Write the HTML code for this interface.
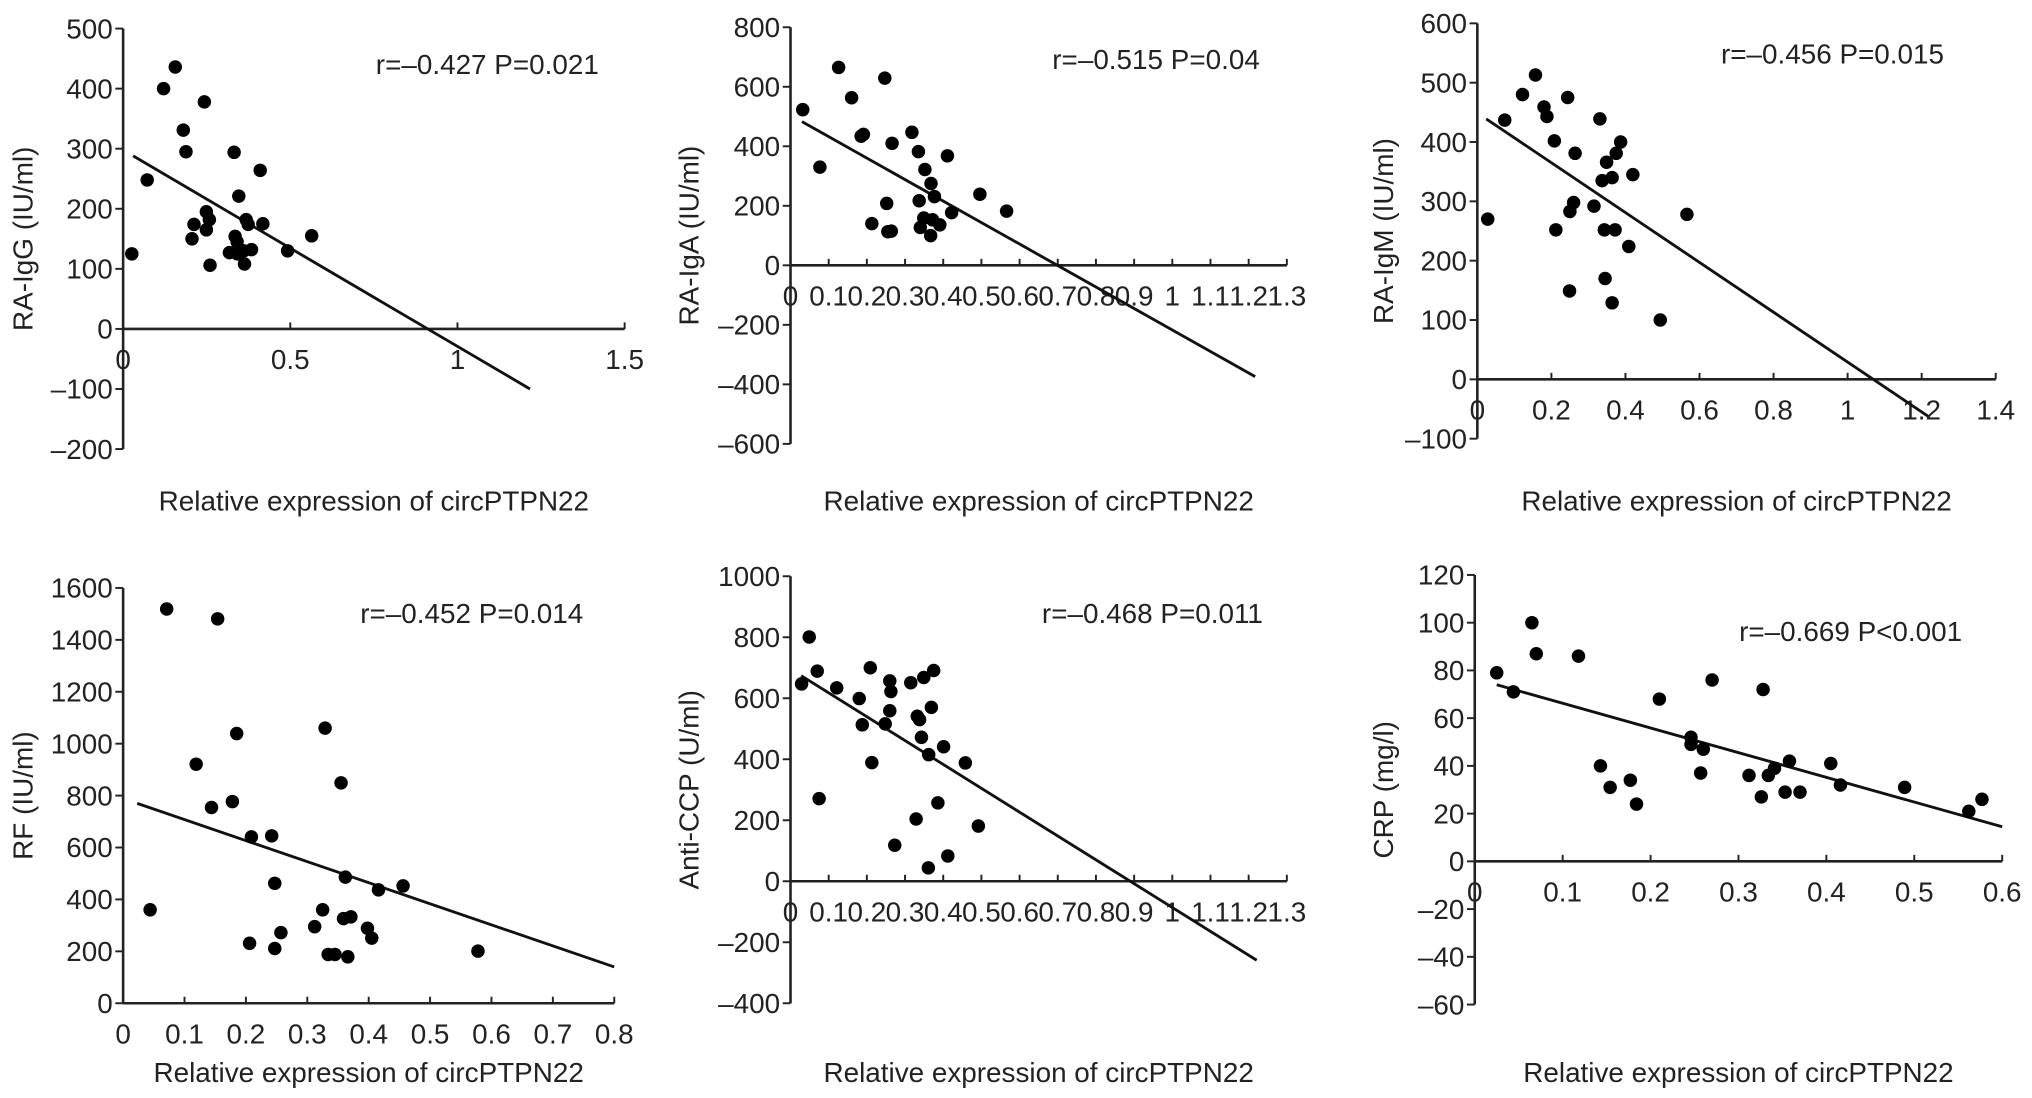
<!DOCTYPE html>
<html><head><meta charset="utf-8"><style>
html,body{margin:0;padding:0;background:#fff;}
svg{display:block;font-family:"Liberation Sans",Arial,sans-serif;}
</style></head><body>
<svg id="fig" width="2032" height="1098" viewBox="0 0 1568 846" preserveAspectRatio="none" xmlns="http://www.w3.org/2000/svg"></svg>
<script>
// ---- Panel A: RA-IgG ----
const iggX = [0.026,0.072,0.121,0.156,0.18,0.188,0.212,0.206,0.243,0.249,0.258,0.249,0.26,0.332,0.346,0.335,0.341,0.318,0.342,0.363,0.368,0.374,0.384,0.361,0.41,0.418,0.492,0.564];
const iggY = [125,248,400,436,331,295,174,150,378,195,182,165,106,294,221,154,145,127,125,108,182,174,132,130,264,175,130,155];
const iggFit = [[0.03,288],[1.217,-100]];
const iggYTicks = [500,400,300,200,100,0,-100,-200];
const iggXTicks = [0,0.5,1,1.5];
// ---- Panel B: RA-IgA ----
const igaX = [0.032,0.077,0.126,0.16,0.185,0.191,0.213,0.247,0.252,0.255,0.264,0.266,0.318,0.335,0.337,0.34,0.349,0.352,0.368,0.367,0.372,0.377,0.391,0.411,0.422,0.496,0.566];
const igaY = [523,330,665,563,434,440,140,629,208,113,115,410,447,382,217,127,159,322,275,100,153,231,136,368,177,239,182];
const igaFit = [[0.03,483],[1.217,-374]];
const igaYTicks = [800,600,400,200,0,-200,-400,-600];
const igaXTicks = [0,0.1,0.2,0.3,0.4,0.5,0.6,0.7,0.8,0.9,1,1.1,1.2,1.3];
// ---- Panel C: RA-IgM ----
const igmX = [0.028,0.074,0.122,0.157,0.18,0.188,0.208,0.212,0.244,0.249,0.25,0.26,0.264,0.315,0.331,0.337,0.343,0.345,0.349,0.364,0.364,0.372,0.375,0.387,0.409,0.42,0.494,0.566];
const igmY = [270,437,480,513,459,443,402,252,475,149,283,298,381,292,439,335,252,170,366,340,129,252,381,400,224,345,100,278];
const igmFit = [[0.024,439],[1.217,-62]];
const igmYTicks = [600,500,400,300,200,100,0,-100];
const igmXTicks = [0,0.2,0.4,0.6,0.8,1,1.2,1.4];
// ---- Panel D: RF ----
const rfX = [0.071,0.154,0.185,0.119,0.178,0.144,0.209,0.242,0.044,0.247,0.257,0.206,0.247,0.312,0.325,0.329,0.355,0.362,0.359,0.371,0.334,0.345,0.366,0.398,0.405,0.416,0.456,0.578];
const rfY = [1519,1481,1039,921,777,754,641,645,360,462,272,231,211,295,360,1060,849,486,326,333,188,188,179,289,251,437,452,201];
const rfFit = [[0.023,770],[0.8,140]];
const rfYTicks = [1600,1400,1200,1000,800,600,400,200,0];
const rfXTicks = [0,0.1,0.2,0.3,0.4,0.5,0.6,0.7,0.8];
// ---- Panel E: Anti-CCP ----
const ccpX = [0.029,0.049,0.07,0.075,0.121,0.18,0.188,0.209,0.213,0.248,0.26,0.263,0.26,0.273,0.315,0.329,0.332,0.338,0.343,0.349,0.362,0.361,0.369,0.375,0.386,0.401,0.412,0.458,0.492];
const ccpY = [647,801,689,271,634,599,513,700,389,516,657,622,559,118,651,204,541,530,472,668,415,44,570,691,257,441,83,388,181];
const ccpFit = [[0.028,674],[1.221,-259]];
const ccpYTicks = [1000,800,600,400,200,0,-200,-400];
const ccpXTicks = [0,0.1,0.2,0.3,0.4,0.5,0.6,0.7,0.8,0.9,1,1.1,1.2,1.3];
// ---- Panel F: CRP ----
const crpX = [0.025,0.044,0.065,0.07,0.118,0.143,0.154,0.177,0.184,0.21,0.246,0.246,0.26,0.257,0.27,0.312,0.326,0.328,0.334,0.341,0.353,0.358,0.37,0.405,0.416,0.489,0.562,0.577];
const crpY = [79,71,100,87,86,40,31,34,24,68,52,49,47,37,76,36,27,72,36,39,29,42,29,41,32,31,21,26];
const crpFit = [[0.025,74],[0.6,14.5]];
const crpYTicks = [120,100,80,60,40,20,0,-20,-40,-60];
const crpXTicks = [0,0.1,0.2,0.3,0.4,0.5,0.6];

const NS = "http://www.w3.org/2000/svg";
const svg = document.getElementById('fig');
function mk(tag, attrs, parent){ const e=document.createElementNS(NS,tag); for(const k in attrs) e.setAttribute(k,attrs[k]); (parent||svg).appendChild(e); return e; }

const panels = [
 {id:'igg', xs:iggX, ys:iggY, fit:iggFit, yt:iggYTicks, xt:iggXTicks, ax:95, x0:0,x1:1.5, px1:482, ytop:22, vtop:500, ybot:346, vbot:-200, ylab:'RA-IgG (IU/ml)', ylx:18, titleY:386, ann:'r=\u20130.427 P=0.021', annX:290, annY:57},
 {id:'iga', xs:igaX, ys:igaY, fit:igaFit, yt:igaYTicks, xt:igaXTicks, ax:610, x0:0,x1:1.3, px1:993, ytop:21, vtop:800, ybot:342, vbot:-600, ylab:'RA-IgA (IU/ml)', ylx:532, titleY:386, ann:'r=\u20130.515 P=0.04', annX:812, annY:53},
 {id:'igm', xs:igmX, ys:igmY, fit:igmFit, yt:igmYTicks, xt:igmXTicks, ax:1140, x0:0,x1:1.4, px1:1540, ytop:18, vtop:600, ybot:338, vbot:-100, ylab:'RA-IgM (IU/ml)', ylx:1068, titleY:386, ann:'r=\u20130.456 P=0.015', annX:1328, annY:49},
 {id:'rf', xs:rfX, ys:rfY, fit:rfFit, yt:rfYTicks, xt:rfXTicks, ax:95, x0:0,x1:0.8, px1:474, ytop:453, vtop:1600, ybot:773, vbot:0, ylab:'RF (IU/ml)', ylx:18, titleY:826, ann:'r=\u20130.452  P=0.014', annX:278, annY:480},
 {id:'ccp', xs:ccpX, ys:ccpY, fit:ccpFit, yt:ccpYTicks, xt:ccpXTicks, ax:610, x0:0,x1:1.3, px1:993, ytop:444, vtop:1000, ybot:773, vbot:-400, ylab:'Anti-CCP (U/ml)', ylx:532, titleY:826, ann:'r=\u20130.468 P=0.011', annX:804, annY:480},
 {id:'crp', xs:crpX, ys:crpY, fit:crpFit, yt:crpYTicks, xt:crpXTicks, ax:1138, x0:0,x1:0.6, px1:1545, ytop:443, vtop:120, ybot:774, vbot:-60, ylab:'CRP (mg/l)', ylx:1068, titleY:826, ann:'r=\u20130.669  P<0.001', annX:1342, annY:494}
];

panels.forEach(p=>{
  const g = mk('g',{});
  
  
  const sx = v => p.ax + (v-p.x0)/(p.x1-p.x0)*(p.px1-p.ax);
  const sy = v => p.ytop + (p.vtop-v)/(p.vtop-p.vbot)*(p.ybot-p.ytop);
  const zy = sy(0);
  const ya = mk('line',{x1:p.ax,y1:p.ytop,x2:p.ax,y2:p.ybot,stroke:'#222','stroke-width':2},g);
  
  
  p.yt.forEach(v=>{
    const y=sy(v);
    mk('line',{x1:p.ax-6,y1:y,x2:p.ax,y2:y,stroke:'#222','stroke-width':1.5},g);
    const t=mk('text',{x:p.ax-8,y:y+7.5,'text-anchor':'end','font-size':21.5,fill:'#222'},g);
    t.textContent = v<0 ? '\u2013'+Math.abs(v) : String(v);
    
    
  });
  const xa = mk('line',{x1:p.ax,y1:zy,x2:p.px1,y2:zy,stroke:'#222','stroke-width':2},g);
  
  
  p.xt.forEach(v=>{
    const x=sx(v);
    mk('line',{x1:x,y1:zy-5,x2:x,y2:zy,stroke:'#222','stroke-width':1.5},g);
    const t=mk('text',{x:x,y:zy+31,'text-anchor':'middle','font-size':21.5,fill:'#222'},g);
    t.textContent = String(v);
    
    
  });
  const fl = mk('line',{x1:sx(p.fit[0][0]),y1:sy(p.fit[0][1]),x2:sx(p.fit[1][0]),y2:sy(p.fit[1][1]),stroke:'#111','stroke-width':2.2},g);
  
  
  p.xs.forEach((xv,i)=>{
    const c=mk('circle',{cx:sx(xv),cy:sy(p.ys[i]),r:5.2,fill:'#000'},g);
    
    
  });
  const cy=(p.ytop+p.ybot)/2;
  const yl = mk('text',{x:p.ylx,y:cy,'text-anchor':'middle','font-size':21.5,fill:'#222',transform:`rotate(-90 ${p.ylx} ${cy})`,dy:7},g);
  yl.textContent = p.ylab;
  
  
  const xl = mk('text',{x:(p.ax+p.px1)/2,y:p.titleY+7.5,'text-anchor':'middle','font-size':21.5,fill:'#222'},g);
  xl.textContent = 'Relative expression of circPTPN22';
  
  
  const an = mk('text',{x:p.annX,y:p.annY,'font-size':21.5,fill:'#222'},g);
  an.textContent = p.ann;
  
  
});
</script>
</body></html>
